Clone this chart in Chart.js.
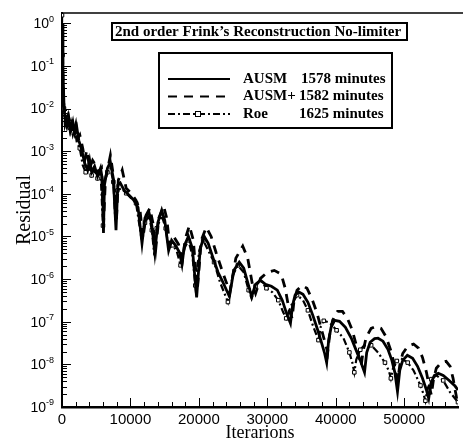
<!DOCTYPE html>
<html>
<head>
<meta charset="utf-8">
<script src="https://cdn.jsdelivr.net/npm/chart.js"></script>
<style>
  html, body { margin: 0; padding: 0; background: #fff; }
  #residualChart { display: block; }
</style>
</head>
<body>
<canvas id="residualChart" width="463" height="442"></canvas>
<script>
// Residual history: iterations and residual per scheme
const ausmIters = [0, 140, 290, 430, 720, 1010, 1300, 1590, 1880, 2160, 2450, 2890, 3320, 3750, 4040, 4330, 4760, 5190, 5630, 5920,
  6060, 6200, 6640, 7070, 7500, 7890, 8150, 8510, 9090, 9810, 10530, 11110, 11690, 12120, 12700, 13130, 13560, 14000, 14570, 15010,
  15580, 16020, 16590, 17170, 17530, 17890, 18470, 19050, 19670, 20200, 20780, 21360, 22080, 22800, 23380, 24460, 25110, 25900, 26550, 27130,
  27710, 28280, 29000, 29730, 30590, 31460, 32180, 32760, 33380, 33690, 34050, 34590, 35210, 35930, 36650, 37370, 37950, 38380, 38670, 38960,
  39320, 39830, 40550, 41410, 42280, 43000, 43580, 43940, 44200, 44520, 45020, 45670, 46180, 46900, 47620, 48200, 48630, 49020, 49350, 49780,
  50460, 51230, 51950, 52670, 53250, 53580, 53900, 54400, 54980, 55700, 56570, 57430, 57860];
const ausmResid = [1.0, 7.9e-2, 1.2e-2, 5.9e-3, 3.8e-3, 5.9e-3, 3.1e-3, 4.8e-3, 2.6e-3, 3.6e-3, 1.8e-3, 1.05e-3, 5.2e-4, 3.6e-4, 6.1e-4, 3.2e-4, 4.4e-4, 2.6e-4, 4.0e-4, 2.1e-4,
  1.2e-5, 1.6e-4, 4.0e-4, 5.5e-4, 2.3e-4, 1.4e-5, 1.6e-4, 1.8e-4, 1.2e-4, 9.2e-5, 7.0e-5, 4.8e-5, 6.9e-6, 2.7e-5, 3.7e-5, 1.8e-5, 4.2e-6, 2.1e-5, 4.1e-5, 2.4e-5,
  4.7e-6, 8.1e-6, 6.2e-6, 4.2e-6, 2.2e-6, 6.2e-6, 1.0e-5, 5.3e-6, 3.7e-7, 5.3e-6, 1.0e-5, 6.9e-6, 3.1e-6, 1.44e-6, 9.4e-7, 3.9e-7, 1.6e-6, 2.5e-6, 1.8e-6, 8.4e-7,
  3.9e-7, 7.5e-7, 9.4e-7, 7.5e-7, 6.8e-7, 5.5e-7, 3.2e-7, 1.66e-7, 9.2e-8, 2.4e-7, 4.2e-7, 5.0e-7, 4.4e-7, 2.85e-7, 1.41e-7, 6.3e-8, 3.1e-8, 1.8e-8, 1.1e-8, 3.7e-8,
  7.4e-8, 1.08e-7, 1.02e-7, 7.4e-8, 4.1e-8, 2.1e-8, 1.24e-8, 8.5e-9, 6.5e-9, 1.9e-8, 3.3e-8, 4.0e-8, 4.1e-8, 3.5e-8, 2.25e-8, 1.24e-8, 6.5e-9, 2.3e-9, 7.2e-9, 1.24e-8,
  1.63e-8, 1.39e-8, 9.0e-9, 4.7e-9, 2.5e-9, 1.6e-9, 3.6e-9, 5.5e-9, 6.2e-9, 5.5e-9, 4.2e-9, 3.1e-9, 2.5e-9];

const ausmPlusIters = [0, 140, 290, 580, 870, 1150, 1440, 1730, 2020, 2310, 2600, 3030, 3320, 3610, 4040, 4470, 4910, 5340, 5770, 6060,
  6350, 6780, 7070, 7500, 7940, 8230, 8800, 9380, 10100, 10820, 11400, 11830, 12270, 12840, 13280, 13710, 14140, 14860, 15300, 15730,
  16310, 17030, 17610, 18040, 18610, 19190, 19770, 20350, 21070, 21790, 22510, 23380, 24530, 25400, 26410, 27130, 27850, 28280, 29000, 30010,
  31020, 32030, 32610, 33190, 33620, 33910, 34340, 35060, 35790, 36510, 37230, 37950, 38530, 38820, 39100, 39540, 40260, 40980, 41700, 42420,
  43000, 43430, 43720, 44010, 44440, 45170, 45890, 46610, 47330, 48050, 48630, 49060, 49350, 49780, 50510, 51370, 52090, 52670, 53250, 53680,
  53970, 54260, 54690, 55410, 56130, 56710, 57140, 57580, 57860];
const ausmPlusResid = [1.0, 6.0e-2, 1.0e-2, 5.3e-3, 7.0e-3, 3.4e-3, 5.9e-3, 2.8e-3, 4.3e-3, 2.0e-3, 2.4e-3, 1.17e-3, 6.1e-4, 1.05e-3, 4.0e-4, 6.1e-4, 4.7e-4, 3.2e-4, 4.0e-4, 1.8e-5,
  2.3e-4, 4.7e-4, 8.0e-4, 2.7e-4, 2.1e-5, 2.1e-4, 3.6e-4, 1.35e-4, 1.03e-4, 7.0e-5, 4.1e-5, 9.1e-6, 3.1e-5, 4.6e-5, 2.1e-5, 5.3e-6, 2.7e-5, 5.1e-5, 2.7e-5, 6.2e-6,
  1.0e-5, 6.5e-6, 2.8e-6, 9.1e-6, 1.8e-5, 8.1e-6, 5.5e-7, 8.1e-6, 1.64e-5, 1.0e-5, 4.2e-6, 1.6e-6, 4.9e-7, 3.1e-6, 5.9e-6, 3.1e-6, 7.1e-7, 4.6e-7, 1.04e-6, 1.44e-6,
  1.6e-6, 1.3e-6, 6.1e-7, 1.85e-7, 1.2e-7, 3.2e-7, 5.5e-7, 7.1e-7, 6.1e-7, 3.5e-7, 1.66e-7, 6.3e-8, 2.8e-8, 1.9e-8, 4.8e-8, 1.08e-7, 1.75e-7, 1.75e-7, 1.2e-7, 6.3e-8,
  2.8e-8, 1.39e-8, 9.5e-9, 2.1e-8, 4.3e-8, 7.0e-8, 7.8e-8, 7.0e-8, 4.5e-8, 2.1e-8, 9.0e-9, 4.2e-9, 9.5e-9, 1.8e-8, 2.65e-8, 3.0e-8, 2.4e-8, 1.46e-8, 6.5e-9, 2.9e-9,
  1.9e-9, 4.2e-9, 8.1e-9, 1.1e-8, 1.18e-8, 9.0e-9, 4.7e-9, 1.9e-9, 1.0e-9];

const roeIters = [0, 40, 90, 140, 290, 430, 720, 1010, 1300, 1590, 1880, 2160, 2600, 3030, 3460, 3900, 4330, 4760, 5190, 5630,
  5990, 6200, 6640, 7070, 7500, 7790, 8080, 8660, 9380, 10100, 10820, 11540, 12120, 12700, 13130, 13490, 13850, 14570, 15150, 15580,
  16160, 16740, 17320, 17890, 18470, 19050, 19480, 20060, 20630, 21360, 22220, 23090, 24240, 24960, 25690, 26550, 27270, 27710, 28280, 29000,
  29870, 30740, 31600, 32320, 32760, 33480, 34340, 35210, 35930, 36650, 37470, 37820, 38250, 39110, 40120, 41130, 41990, 42420, 42710, 43000,
  43580, 44160, 45170, 46180, 47190, 47760, 48050, 48340, 48920, 49490, 50510, 51370, 52380, 52820, 53100, 53390, 53970, 54690, 55700, 56710, 57860];
const roeResid = [1.54, 0.40, 0.18, 4.6e-2, 1.0e-2, 4.0e-3, 5.9e-3, 3.1e-3, 4.8e-3, 2.4e-3, 3.4e-3, 1.6e-3, 1.17e-3, 4.7e-4, 3.2e-4, 4.7e-4, 2.7e-4, 3.6e-4, 2.3e-4, 3.2e-4,
  1.8e-5, 1.9e-4, 3.2e-4, 4.0e-4, 1.9e-4, 2.4e-5, 1.2e-4, 1.35e-4, 1.03e-4, 7.9e-5, 6.0e-5, 1.06e-5, 2.1e-5, 3.1e-5, 1.4e-5, 3.6e-6, 1.55e-5, 3.1e-5, 1.55e-5, 5.3e-6,
  6.2e-6, 4.7e-6, 2.1e-6, 5.3e-6, 8.1e-6, 3.6e-6, 7.1e-7, 4.7e-6, 8.1e-6, 4.7e-6, 2.5e-6, 8.4e-7, 2.9e-7, 1.23e-6, 2.1e-6, 1.44e-6, 5.5e-7, 3.5e-7, 6.8e-7, 9.4e-7,
  6.1e-7, 4.9e-7, 3.2e-7, 1.66e-7, 1.2e-7, 2.4e-7, 4.2e-7, 3.2e-7, 1.85e-7, 8.2e-8, 3.7e-8, 7.8e-8, 1.05e-7, 9.5e-8, 6.3e-8, 4.1e-8, 1.9e-8, 1.1e-8, 6.5e-9, 1.3e-8,
  2.2e-8, 2.8e-8, 2.8e-8, 1.9e-8, 1.1e-8, 7.0e-9, 4.7e-9, 7.8e-9, 1.2e-8, 1.4e-8, 1.1e-8, 7.2e-9, 3.2e-9, 2.0e-9, 1.4e-9, 2.6e-9, 4.5e-9, 5.5e-9, 4.2e-9, 2.2e-9, 1.3e-9];

const seriesNames = ['AUSM', 'AUSM+', 'Roe'];
const runTimes = ['1578 minutes', '1582 minutes', '1625 minutes'];
const plotTitle = '2nd order Frink\u2019s Reconstruction No-limiter';

const xTicks = [0, 10000, 20000, 30000, 40000, 50000];
const yTicks = [1, 1e-1, 1e-2, 1e-3, 1e-4, 1e-5, 1e-6, 1e-7, 1e-8, 1e-9];
const yTickExps = ['0', '-1', '-2', '-3', '-4', '-5', '-6', '-7', '-8', '-9'];

function toPoints(xs, ys) {
  return xs.map((x, i) => ({ x: x, y: ys[i] }));
}

// inward tick marks (major + minor), top frame line, 10^n labels
const innerTicks = {
  id: 'innerTicks',
  beforeDatasetsDraw(chart) {
    const { ctx, chartArea: a, scales: { x, y } } = chart;
    ctx.save();
    ctx.strokeStyle = '#000';
    ctx.lineWidth = 1;
    ctx.beginPath();
    for (let v = 0; v <= x.max; v += 2000) {
      const px = Math.round(x.getPixelForValue(v)) + 0.5;
      const len = v % 10000 === 0 ? 9 : 5;
      ctx.moveTo(px, a.bottom);
      ctx.lineTo(px, a.bottom - len);
    }
    for (let e = -9; e <= 0; e++) {
      for (let m = 1; m <= 9; m++) {
        const v = m * Math.pow(10, e);
        if (v > y.max) continue;
        const py = Math.round(y.getPixelForValue(v)) + 0.5;
        ctx.moveTo(a.left, py);
        ctx.lineTo(a.left + (m === 1 ? 9 : 5), py);
      }
    }
    ctx.stroke();
    ctx.lineWidth = 1.5;
    ctx.beginPath();
    ctx.moveTo(a.left, a.top);
    ctx.lineTo(chart.width, a.top);
    ctx.stroke();

    // y labels: "10" with a raised exponent
    ctx.fillStyle = '#000';
    ctx.textBaseline = 'middle';
    ctx.textAlign = 'left';
    const rightEdge = a.left - 8;
    yTicks.forEach((v, i) => {
      const py = y.getPixelForValue(v);
      ctx.font = '9px "Liberation Sans", Arial, sans-serif';
      const ew = ctx.measureText(yTickExps[i]).width;
      ctx.fillText(yTickExps[i], rightEdge - ew, py - 4);
      ctx.font = '14px "Liberation Sans", Arial, sans-serif';
      const bw = ctx.measureText('10').width;
      ctx.fillText('10', rightEdge - ew - bw, py + 1);
    });
    ctx.restore();
  }
};

// boxed title and legend inside the plot
const boxedLegend = {
  id: 'boxedLegend',
  afterDraw(chart) {
    const ctx = chart.ctx;
    ctx.save();
    ctx.lineWidth = 2;
    ctx.strokeStyle = '#000';
    ctx.fillStyle = '#fff';
    ctx.fillRect(112, 23, 295, 17);
    ctx.strokeRect(112, 23, 295, 17);
    ctx.font = 'bold 15px "Liberation Serif", serif';
    ctx.fillStyle = '#000';
    ctx.textBaseline = 'middle';
    ctx.fillText(plotTitle, 115, 32);

    ctx.fillStyle = '#fff';
    ctx.fillRect(159, 53, 233, 75);
    ctx.strokeRect(159, 53, 233, 75);
    const timeX = [301, 299, 299];
    chart.data.datasets.forEach((ds, i) => {
      const ly = 79 + i * 17.5;
      ctx.strokeStyle = '#000';
      ctx.lineWidth = 2;
      ctx.setLineDash(ds.borderDash || []);
      ctx.beginPath();
      ctx.moveTo(168, ly);
      ctx.lineTo(230, ly);
      ctx.stroke();
      ctx.setLineDash([]);
      if (ds.pointStyle === 'rect') {
        ctx.lineWidth = 1;
        ctx.fillStyle = '#fff';
        ctx.fillRect(195.5, ly - 2.5, 5, 5);
        ctx.strokeRect(195.5, ly - 2.5, 5, 5);
      }
      ctx.fillStyle = '#000';
      ctx.fillText(seriesNames[i], 243, ly);
      ctx.fillText(runTimes[i], timeX[i], ly);
    });
    ctx.restore();
  }
};

const ctx = document.getElementById('residualChart').getContext('2d');
const residualChart = new Chart(ctx, {
  type: 'line',
  data: {
    datasets: [{
      label: seriesNames[0],
      data: toPoints(ausmIters, ausmResid),
      borderColor: '#000',
      borderWidth: 2.8,
      pointRadius: 0
    }, {
      label: seriesNames[1],
      data: toPoints(ausmPlusIters, ausmPlusResid),
      borderColor: '#000',
      borderWidth: 2.8,
      borderDash: [9, 7],
      pointRadius: 0
    }, {
      label: seriesNames[2],
      data: toPoints(roeIters, roeResid),
      borderColor: '#000',
      borderWidth: 2.2,
      borderDash: [7, 3, 2, 3],
      pointStyle: 'rect',
      pointRadius: c => (c.dataIndex % 2 === 0 ? 2.5 : 0),
      pointBackgroundColor: '#fff',
      pointBorderColor: '#000',
      pointBorderWidth: 1
    }]
  },
  options: {
    responsive: false,
    animation: false,
    devicePixelRatio: 1,
    layout: { padding: { top: 13, right: 0, left: 0, bottom: 0 } },
    plugins: {
      legend: { display: false },
      tooltip: { enabled: false }
    },
    elements: { line: { tension: 0 } },
    scales: {
      x: {
        type: 'linear',
        min: 0,
        max: 57860,
        afterBuildTicks: s => { s.ticks = xTicks.map(v => ({ value: v })); },
        afterFit: s => { s.height = 35; },
        grid: { drawOnChartArea: false, drawTicks: false },
        border: { color: '#000', width: 2.5 },
        ticks: {
          color: '#000',
          padding: 4,
          maxRotation: 0,
          font: { family: '"Liberation Sans", Arial, sans-serif', size: 15 },
          callback: v => String(v)
        },
        title: {
          display: true,
          text: 'Iterarions',
          color: '#000',
          padding: { top: 0, bottom: 0 },
          font: { family: '"Liberation Serif", serif', size: 18, lineHeight: 1 }
        }
      },
      y: {
        type: 'logarithmic',
        min: 1e-9,
        max: 1.74,
        afterBuildTicks: s => { s.ticks = yTicks.map(v => ({ value: v })); },
        afterFit: s => { s.width = 62; },
        grid: { drawOnChartArea: false, drawTicks: false },
        border: { color: '#000', width: 2 },
        ticks: { display: false },
        title: {
          display: true,
          text: 'Residual',
          color: '#000',
          padding: { top: 15, bottom: 0 },
          font: { family: '"Liberation Serif", serif', size: 20, lineHeight: 1 }
        }
      }
    }
  },
  plugins: [innerTicks, boxedLegend]
});
</script>
</body>
</html>
